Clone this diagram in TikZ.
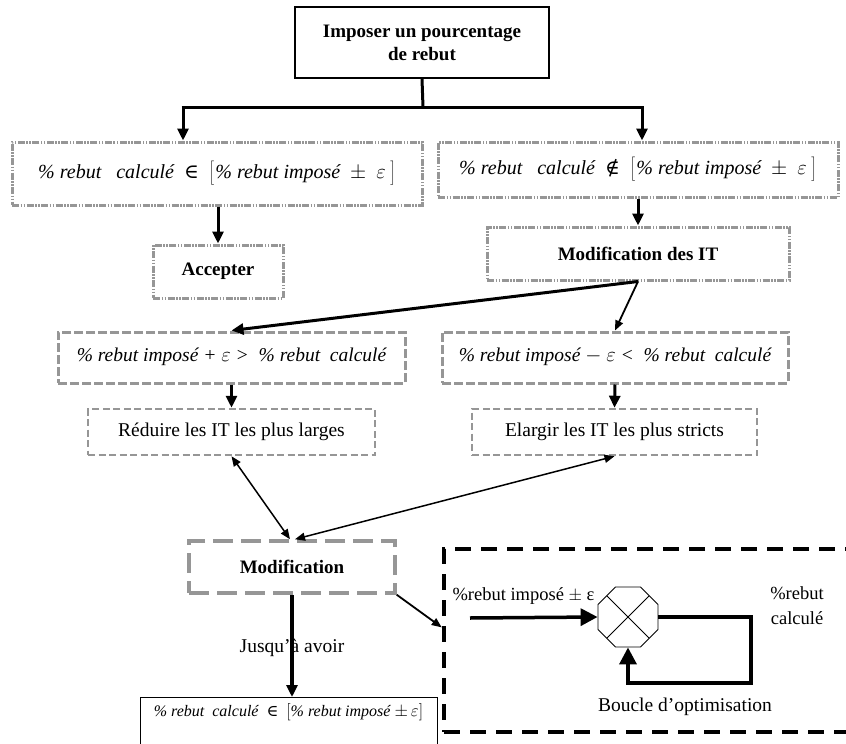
\documentclass[tikz,border=0pt]{standalone}
\usepackage{fontspec}
\setmainfont{Liberation Serif}
\newfontfamily\symfnt{DejaVu Serif}
\usetikzlibrary{arrows.meta,shapes.geometric,calc}
\definecolor{boxgray}{RGB}{150,150,150}
\newcommand{\tallL}{\left[\vrule height 16pt depth 7pt width 0pt\right.}
\newcommand{\tallR}{\left.\vrule height 16pt depth 7pt width 0pt\right]}
\begin{document}
\begin{tikzpicture}[x=1pt,y=-1pt,
  font=\fontsize{19.5}{23}\selectfont,
  base/.style={inner sep=0pt, align=center},
  topbox/.style={base, draw=black, line width=2.2pt, font=\fontsize{19}{23}\selectfont\bfseries},
  ddbox/.style={base, draw=boxgray, line width=3pt, dash pattern=on 7pt off 1.5pt on 1.5pt off 1.5pt on 1.5pt off 1.5pt},
  dbox/.style={base, draw=boxgray, line width=3pt, dash pattern=on 9pt off 3pt},
  tbox/.style={base, draw=boxgray, line width=2.5pt, dash pattern=on 7pt off 3.5pt},
  mbox/.style={base, draw=boxgray, line width=3.5pt, dash pattern=on 20pt off 8pt, font=\fontsize{19}{23}\selectfont\bfseries},
  bigbox/.style={base, draw=black, line width=4.5pt, dash pattern=on 16pt off 10pt},
  thinbox/.style={base, draw=black, line width=1pt},
  thickarrow/.style={line width=3pt, -{Triangle[length=12pt,width=11pt]}},
  thinarrow/.style={line width=1.8pt, -{Triangle[length=10pt,width=8pt]}},
  dblarrow/.style={line width=1.5pt, {Triangle[length=10pt,width=8pt]}-{Triangle[length=10pt,width=8pt]}},
  looparrow/.style={line width=3.5pt, -{Triangle[length=17pt,width=17pt]}},
  plainline/.style={line width=3pt}
]
\clip (0,0) rectangle (846,744);
\fill[white] (0,0) rectangle (846,744);

% top
\node[topbox, minimum width=254pt, minimum height=71pt] (top) at (422,42.5) {Imposer un pourcentage\\de rebut};
\coordinate (j) at (423,107);
\coordinate (jl) at (183,107);
\coordinate (jr) at (642,107);

% first level
\node[ddbox, minimum width=410pt, minimum height=63pt, font=\fontsize{20}{24}\selectfont\itshape] (c1) at (217,173.5)
  {\% rebut\ \ \ calculé\ \ {\upshape\symfnt ∈}\ \ $\tallL$\% rebut imposé\ \ $\pm$\ \ $\varepsilon\tallR$};
\node[ddbox, minimum width=400pt, minimum height=55pt, font=\fontsize{20}{24}\selectfont\itshape] (c2) at (638,169.5)
  {\% rebut\ \ \ calculé\ \ {\upshape\symfnt ∉}\ \ $\tallL$\% rebut imposé\ \ $\pm$\ \ $\varepsilon\tallR$};

\node[ddbox, minimum width=130pt, minimum height=53pt, font=\fontsize{19}{23}\selectfont\bfseries] (acc) at (218,271.5) {Accepter};
\node[ddbox, minimum width=302pt, minimum height=53pt, font=\fontsize{19}{23}\selectfont\bfseries] (modit) at (638,253.5) {Modification des IT};

% second level
\node[dbox, minimum width=347pt, minimum height=51pt, font=\fontsize{19.5}{23}\selectfont\itshape] (l2a) at (231.5,357.5)
  {\raisebox{5pt}{\% rebut imposé + $\varepsilon$ >\ \ \% rebut\ \ calculé}};
\node[dbox, minimum width=346pt, minimum height=51pt, font=\fontsize{19.5}{23}\selectfont\itshape] (l2b) at (615,357.5)
  {\raisebox{5pt}{\% rebut imposé $-$ $\varepsilon$ <\ \ \% rebut\ \ calculé}};

\node[tbox, minimum width=287pt, minimum height=46pt] (red) at (231.5,432) {Réduire les IT les plus larges};
\node[tbox, minimum width=285pt, minimum height=46pt] (ela) at (614.5,432) {Elargir les IT les plus stricts};

\node[mbox, minimum width=206pt, minimum height=52pt] (mod) at (292,567) {Modification};

\node[thinbox, minimum width=297pt, minimum height=80pt, anchor=north west] (bot) at (140,697) {};
\node[font=\fontsize{16}{19}\selectfont\itshape] (bottxt) at (288.5,712)
  {\% rebut\ \ calculé\ \ {\upshape\symfnt ∈}\ \ $\big[$\% rebut imposé $\pm\,\varepsilon\big]$};

\node[bigbox, minimum width=416pt, minimum height=183pt] (big) at (652,640.5) {};

% loop contents
\node[draw=black, line width=0.8pt, regular polygon, regular polygon sides=8, minimum size=65pt, inner sep=0pt] (oct) at (628,617) {};
\draw[line width=0.8pt] ($(oct.center)+(-21,-21)$) -- ($(oct.center)+(21,21)$);
\draw[line width=0.8pt] ($(oct.center)+(-21,21)$) -- ($(oct.center)+(21,-21)$);
\node[anchor=west, font=\fontsize{18.5}{22}\selectfont] (inlbl) at (449,596) {\%rebut imposé $\pm$ ε};
\node[align=center, font=\fontsize{18.5}{25}\selectfont] (outlbl) at (797,606) {\%rebut\\calculé};
\node[font=\fontsize{19.5}{23}\selectfont] (looplbl) at (685,707) {Boucle d’optimisation};
\coordinate (in) at (470,618);
\coordinate (lr) at (751,683);
\draw[looparrow] (in) -- (oct.west);
\draw[looparrow] (oct.east) -| (lr) -| (oct.south);

% connectors
\draw[plainline] (top.south) -- (j);
\draw[plainline] ([xshift=-1.5pt]jl) -- ([xshift=1.5pt]jr);
\draw[thickarrow] (jl) -- (jl |- c1.north);
\draw[thickarrow] (jr) -- (jr |- c2.north);
\draw[thickarrow] (c1.south -| acc.north) -- (acc.north);
\draw[thickarrow] (c2.south -| modit.north) -- (modit.north);
\draw[thickarrow] (modit.south) -- (l2a.north);
\draw[thinarrow] (modit.south) -- (l2b.north);
\draw[thickarrow] (l2a.south) -- (red.north);
\draw[thickarrow] (l2b.south) -- (ela.north);
\draw[dblarrow] (red.south) -- ([xshift=-2pt]mod.north);
\draw[dblarrow] (ela.south) -- ([xshift=3pt]mod.north);
\node (jusq) at (292,648) {Jusqu’à avoir};
\draw[thickarrow, line width=4pt] (mod.south) -- (mod.south |- bot.north);
\draw[thinarrow] (mod.south east) -- ($(big.north west)!0.43!(big.south west)$);
\end{tikzpicture}
\end{document}
